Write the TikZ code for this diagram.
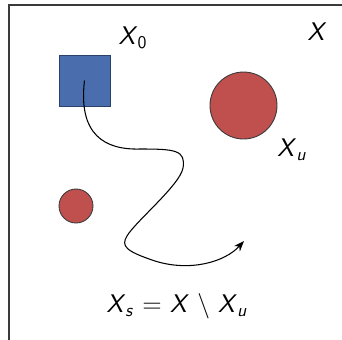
\documentclass[tikz,border=0pt]{standalone}
\usetikzlibrary{arrows.meta, positioning}
\definecolor{setblue}{HTML}{4A6DAE}
\definecolor{setred}{HTML}{C0504D}
\definecolor{edgegray}{HTML}{3A3A3A}
\newcommand{\setX}[1]{\textit{X}\textsubscript{#1}}

\begin{document}
\begin{tikzpicture}[x=0.02cm, y=-0.02cm,
    lbl/.style={font=\fontsize{14.5}{17}\selectfont\sffamily, inner sep=0pt},
    unsafe/.style={circle, fill=setred, draw=edgegray, line width=0.5pt, inner sep=0pt}]
  \clip (0,0) rectangle (342,339);
  % Zustandsraum
  \draw[line width=0.6pt, edgegray] (9,5) rectangle (360,360);
  \node[lbl] (space) at (317,32) {\textit{X}};
  % Anfangsmenge
  \node[draw=setblue!60!black, fill=setblue, line width=0.5pt, minimum size=1.02cm, inner sep=0pt] (init) at (84.5,80.5) {};
  \node[lbl] (initlbl) at (133,38) {\setX{0}};
  % Unsichere Mengen
  \node[unsafe, minimum size=1.34cm] (bigu) at (243.5,105.5) {};
  \node[unsafe, minimum size=0.68cm] (smallu) at (76,206) {};
  \node[lbl] (ulbl) at (292,150) {\setX{\textit{u}}};
  % Trajektorie
  \coordinate (trajend) at (244,241);
  \draw[line width=0.6pt, -{Stealth[length=6pt, width=4.5pt]}] (init.center)
    .. controls (78,135) and (105,150) .. (140,149)
    .. controls (175,149) and (186,150) .. (183,168)
    .. controls (180,185) and (135,222) .. (127,236)
    .. controls (121,246) and (125,251) .. (155,261)
    .. controls (190,272) and (225,262) .. (trajend);
  % Sichere Menge
  \node[lbl] (safelbl) at (177,306) {\setX{\textit{s}} = \textit{X} $\setminus$ \setX{\textit{u}}};
\end{tikzpicture}
\end{document}
